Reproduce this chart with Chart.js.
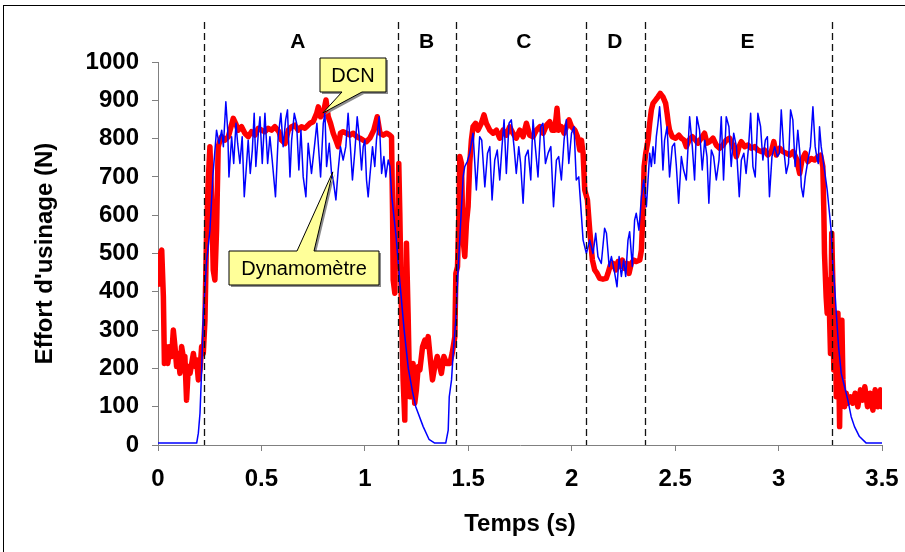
<!DOCTYPE html>
<html><head><meta charset="utf-8">
<script src="https://cdn.jsdelivr.net/npm/chart.js@4/dist/chart.umd.min.js"></script>
<style>html,body{margin:0;padding:0;background:#fff;overflow:hidden}#wrap{position:relative;width:905px;height:552px}</style>
</head><body><div id="wrap"><canvas id="c" width="905" height="552"></canvas></div>
<script>
// ---- data (time in s, force in N) ----
const dynTime=[0,0.187,0.195,0.203,0.211,0.22,0.235,0.251,0.265,0.283,0.295,0.308,0.316,0.328,0.337,0.343,0.356,0.366,0.377,0.385,0.396,0.407,0.417,0.425,0.436,0.446,0.456,0.465,0.473,0.485,0.493,0.504,0.517,0.530,0.541,0.552,0.568,0.581,0.594,0.605,0.617,0.626,0.638,0.646,0.659,0.670,0.681,0.691,0.702,0.715,0.726,0.742,0.758,0.768,0.786,0.799,0.807,0.815,0.828,0.839,0.847,0.860,0.871,0.882,0.895,0.908,0.919,0.930,0.940,0.952,0.963,0.973,0.984,0.992,1.000,1.008,1.016,1.024,1.037,1.048,1.056,1.069,1.081,1.092,1.101,1.113,1.121,1.13,1.15,1.17,1.19,1.21,1.23,1.246,1.282,1.31,1.338,1.391,1.403,1.408,1.419,1.427,1.44,1.45,1.465,1.475,1.483,1.495,1.507,1.523,1.539,1.555,1.565,1.580,1.593,1.604,1.615,1.628,1.640,1.652,1.663,1.673,1.684,1.697,1.708,1.721,1.732,1.744,1.753,1.765,1.776,1.789,1.802,1.813,1.824,1.837,1.850,1.861,1.873,1.886,1.899,1.912,1.926,1.937,1.950,1.963,1.974,1.986,1.999,2.011,2.022,2.034,2.044,2.055,2.071,2.087,2.103,2.116,2.127,2.143,2.159,2.168,2.181,2.192,2.208,2.219,2.229,2.240,2.251,2.261,2.272,2.280,2.293,2.304,2.312,2.325,2.337,2.348,2.361,2.369,2.377,2.385,2.393,2.401,2.409,2.417,2.425,2.433,2.441,2.449,2.461,2.473,2.486,2.497,2.506,2.517,2.530,2.541,2.554,2.570,2.583,2.594,2.605,2.618,2.631,2.643,2.654,2.663,2.675,2.686,2.699,2.712,2.723,2.734,2.747,2.760,2.771,2.783,2.796,2.810,2.820,2.832,2.843,2.855,2.865,2.876,2.887,2.900,2.913,2.924,2.936,2.946,2.956,2.968,2.981,2.994,3.004,3.013,3.024,3.037,3.048,3.058,3.069,3.080,3.093,3.103,3.110,3.119,3.129,3.142,3.154,3.166,3.177,3.187,3.192,3.198,3.206,3.222,3.235,3.243,3.254,3.262,3.271,3.279,3.290,3.303,3.319,3.335,3.351,3.367,3.391,3.424,3.5];
const dynForce=[5,5,31,83,196,350,480,560,700,822,787,822,779,896,822,700,805,735,840,788,735,805,648,709,796,709,770,866,727,814,857,735,866,735,805,744,648,805,866,779,849,875,700,796,866,840,718,822,700,648,788,709,788,840,700,840,866,727,788,709,692,640,718,779,744,779,866,779,692,770,857,805,718,779,796,692,648,700,779,727,796,857,709,753,700,744,727,650,550,420,300,200,140,100,48,15,5,5,39,126,170,240,330,450,600,700,727,740,762,814,666,805,796,674,762,779,640,744,770,692,779,849,709,840,849,779,709,779,735,631,753,770,692,849,779,700,831,840,735,762,779,622,744,753,692,796,849,735,814,831,692,700,622,535,500,535,500,553,492,474,566,553,466,492,448,413,492,440,483,440,535,557,466,587,605,561,648,692,622,692,762,727,779,735,805,840,883,822,718,796,831,700,779,788,727,631,753,718,692,857,779,692,857,822,718,796,753,631,770,753,692,744,857,692,857,831,727,814,779,648,744,762,709,779,866,727,700,866,831,744,796,805,648,753,779,753,762,875,779,709,735,875,849,727,822,762,674,648,700,744,779,883,779,744,735,831,779,718,666,622,561,474,413,344,257,187,152,117,74,48,22,5,5];
const dcnTime=[0.003,0.012,0.018,0.026,0.031,0.039,0.047,0.058,0.066,0.074,0.082,0.090,0.098,0.106,0.114,0.122,0.130,0.138,0.147,0.155,0.163,0.171,0.179,0.187,0.195,0.203,0.211,0.219,0.227,0.235,0.243,0.251,0.259,0.267,0.275,0.283,0.291,0.300,0.308,0.324,0.340,0.353,0.364,0.375,0.388,0.404,0.420,0.436,0.452,0.469,0.485,0.501,0.517,0.533,0.549,0.565,0.585,0.597,0.614,0.630,0.646,0.662,0.678,0.694,0.710,0.718,0.735,0.750,0.767,0.775,0.786,0.799,0.812,0.823,0.834,0.847,0.860,0.871,0.882,0.895,0.911,0.928,0.944,0.960,0.976,0.992,1.008,1.024,1.043,1.060,1.073,1.089,1.105,1.121,1.129,1.134,1.137,1.145,1.150,1.156,1.164,1.169,1.177,1.185,1.193,1.198,1.201,1.209,1.217,1.225,1.233,1.241,1.249,1.258,1.266,1.279,1.290,1.298,1.306,1.317,1.327,1.338,1.350,1.359,1.370,1.382,1.395,1.411,1.422,1.435,1.440,1.448,1.454,1.459,1.467,1.475,1.483,1.491,1.499,1.507,1.515,1.523,1.535,1.547,1.563,1.576,1.587,1.604,1.620,1.636,1.652,1.668,1.684,1.700,1.716,1.732,1.749,1.765,1.781,1.797,1.813,1.829,1.846,1.862,1.878,1.894,1.905,1.918,1.929,1.937,1.950,1.963,1.974,1.987,1.999,2.015,2.028,2.039,2.047,2.055,2.063,2.076,2.087,2.100,2.111,2.123,2.135,2.151,2.167,2.175,2.187,2.200,2.213,2.224,2.235,2.245,2.256,2.268,2.277,2.288,2.300,2.312,2.329,2.337,2.345,2.350,2.358,2.369,2.377,2.385,2.393,2.406,2.417,2.428,2.441,2.454,2.461,2.467,2.473,2.486,2.502,2.518,2.530,2.543,2.554,2.567,2.583,2.599,2.610,2.626,2.642,2.654,2.667,2.683,2.699,2.715,2.731,2.747,2.763,2.779,2.796,2.809,2.820,2.836,2.852,2.868,2.884,2.900,2.916,2.932,2.948,2.965,2.977,2.989,3.005,3.021,3.037,3.054,3.070,3.086,3.102,3.113,3.129,3.142,3.158,3.174,3.190,3.203,3.214,3.219,3.222,3.230,3.235,3.241,3.246,3.251,3.257,3.262,3.267,3.274,3.279,3.287,3.295,3.300,3.306,3.311,3.319,3.327,3.335,3.348,3.359,3.370,3.383,3.396,3.407,3.417,3.430,3.443,3.456,3.467,3.480,3.493,3.500];
const dcnForce=[420,500,509,387,213,257,213,257,231,300,257,205,239,187,257,231,231,117,205,187,213,239,205,222,170,196,257,239,326,561,692,779,648,457,431,561,779,796,805,796,805,831,853,840,822,831,814,805,818,809,827,822,818,827,822,831,818,796,787,822,831,835,822,831,827,831,840,844,866,883,857,866,901,857,840,814,796,779,814,818,814,809,814,805,801,796,792,801,822,857,814,809,814,809,805,605,431,396,605,466,735,605,344,170,65,344,527,344,126,126,213,109,144,205,196,257,274,257,283,222,170,205,231,213,187,231,213,213,239,283,448,466,587,753,735,535,492,579,622,735,796,831,840,822,840,862,840,822,814,822,801,822,809,831,814,801,822,805,840,809,805,822,831,814,835,844,822,822,879,822,831,814,831,849,831,822,805,770,796,762,666,640,561,483,457,448,435,433,435,448,470,474,457,479,466,483,461,474,448,474,483,479,483,509,622,727,762,796,840,875,892,901,909,918,909,892,866,840,822,805,801,809,801,796,779,796,805,796,788,801,814,788,792,801,783,775,783,796,801,783,753,779,792,779,783,775,779,770,766,770,757,766,792,757,775,766,762,757,766,748,709,744,762,740,748,744,753,757,727,605,500,387,344,431,344,239,553,431,196,344,126,344,48,257,326,170,100,135,109,126,109,135,100,144,117,152,100,135,91,144,100,144,100];
const xTicks=[0,0.5,1,1.5,2,2.5,3,3.5];
const yTicks=[0,100,200,300,400,500,600,700,800,900,1000];
const phaseBounds=[0.22,1.16,1.443,2.068,2.353,3.26];
const phaseNames=['A','B','C','D','E'];
const phaseLabelTimes=[0.676,1.298,1.768,2.208,2.85];
const calloutTexts=['DCN','Dynamomètre'];
const calloutTips=[[0.797,867],[0.845,713]];

const FONT='"Liberation Sans", Arial, sans-serif';
const dyn=dynTime.map((t,i)=>({x:t,y:dynForce[i]}));
const dcn=dcnTime.map((t,i)=>({x:t,y:dcnForce[i]}));

const decor={
  id:'decor',
  beforeDraw(chart){
    const c=chart.ctx;
    c.save();c.fillStyle='#fff';c.fillRect(0,0,chart.width,chart.height);
    c.strokeStyle='#000';c.lineWidth=1;c.strokeRect(3.5,5.5,chart.width+10,chart.height+10);
    c.restore();
  },
  afterDatasetsDraw(chart){
    const c=chart.ctx, xs=chart.scales.x, ys=chart.scales.y, a=chart.chartArea;
    c.save();
    c.strokeStyle='#111';c.lineWidth=1.3;c.setLineDash([7,4]);
    phaseBounds.forEach(t=>{const x=Math.round(xs.getPixelForValue(t))+0.5;c.beginPath();c.moveTo(x,a.top-40);c.lineTo(x,a.bottom);c.stroke();});
    c.setLineDash([]);
    c.fillStyle='#000';c.font='bold 21px '+FONT;c.textAlign='center';c.textBaseline='middle';
    phaseNames.forEach((n,i)=>c.fillText(n,xs.getPixelForValue(phaseLabelTimes[i]),a.top-20));
    const boxes=[{cx:353,cy:75,w:66,h:34,tail:'bottom',b1:342,b2:362},{cx:304,cy:268,w:150,h:34,tail:'top',b1:297,b2:314}];
    boxes.forEach((b,i)=>{
      const tx=xs.getPixelForValue(calloutTips[i][0]), ty=ys.getPixelForValue(calloutTips[i][1]);
      const L=b.cx-b.w/2,R=b.cx+b.w/2,T=b.cy-b.h/2,B=b.cy+b.h/2;
      const path=(dx,dy)=>{c.beginPath();
        if(b.tail==='bottom'){c.moveTo(L+dx,T+dy);c.lineTo(R+dx,T+dy);c.lineTo(R+dx,B+dy);c.lineTo(b.b2+dx,B+dy);c.lineTo(tx+dx,ty+dy);c.lineTo(b.b1+dx,B+dy);c.lineTo(L+dx,B+dy);}
        else{c.moveTo(L+dx,T+dy);c.lineTo(b.b1+dx,T+dy);c.lineTo(tx+dx,ty+dy);c.lineTo(b.b2+dx,T+dy);c.lineTo(R+dx,T+dy);c.lineTo(R+dx,B+dy);c.lineTo(L+dx,B+dy);}
        c.closePath();};
      path(2,2);c.fillStyle='#8c8c8c';c.fill();
      path(0,0);c.fillStyle='#FFFF99';c.fill();c.strokeStyle='#000';c.lineWidth=1;c.stroke();
      c.fillStyle='#000';c.font='20px '+FONT;c.textAlign='center';c.textBaseline='middle';
      c.fillText(calloutTexts[i],b.cx,b.cy+1);
    });
    c.restore();
  }
};

new Chart(document.getElementById('c'),{
  type:'line',
  data:{datasets:[
    {label:'Dynamomètre',data:dyn,borderColor:'#0000FF',borderWidth:1.5,pointRadius:0,tension:0,order:0,borderJoinStyle:'round'},
    {label:'DCN',data:dcn,borderColor:'#FF0000',borderWidth:5.5,pointRadius:0,tension:0,order:1,borderJoinStyle:'round',borderCapStyle:'round'}
  ]},
  options:{
    responsive:false,animation:false,
    layout:{padding:{top:62,right:23,left:0,bottom:0}},
    plugins:{legend:{display:false},tooltip:{enabled:false}},
    scales:{
      x:{type:'linear',min:0,max:3.5,
        afterBuildTicks:s=>{s.ticks=xTicks.map(v=>({value:v}));},
        afterFit:s=>{s.height=107;s.paddingLeft=0;s.paddingRight=0;},
        ticks:{font:{family:FONT,size:24,weight:'bold'},color:'#000',padding:14,maxRotation:0,callback:v=>String(v)},
        grid:{drawOnChartArea:false,drawTicks:true,tickLength:6,color:'#808080'},
        border:{color:'#808080',width:1},
        title:{display:true,text:'Temps (s)',font:{family:FONT,size:24,weight:'bold'},color:'#000',padding:{top:0,bottom:13}}
      },
      y:{min:0,max:1000,
        afterBuildTicks:s=>{s.ticks=yTicks.map(v=>({value:v}));},
        afterFit:s=>{s.width=158;s.paddingTop=0;s.paddingBottom=0;},
        ticks:{font:{family:FONT,size:24,weight:'bold'},color:'#000',padding:13,callback:v=>String(v)},
        grid:{drawOnChartArea:false,drawTicks:true,tickLength:6,color:'#808080'},
        border:{color:'#808080',width:1},
        title:{display:true,text:"Effort d'usinage (N)",font:{family:FONT,size:24,weight:'bold'},color:'#000',padding:{top:31,bottom:0}}
      }
    }
  },
  plugins:[decor]
});
</script></body></html>
